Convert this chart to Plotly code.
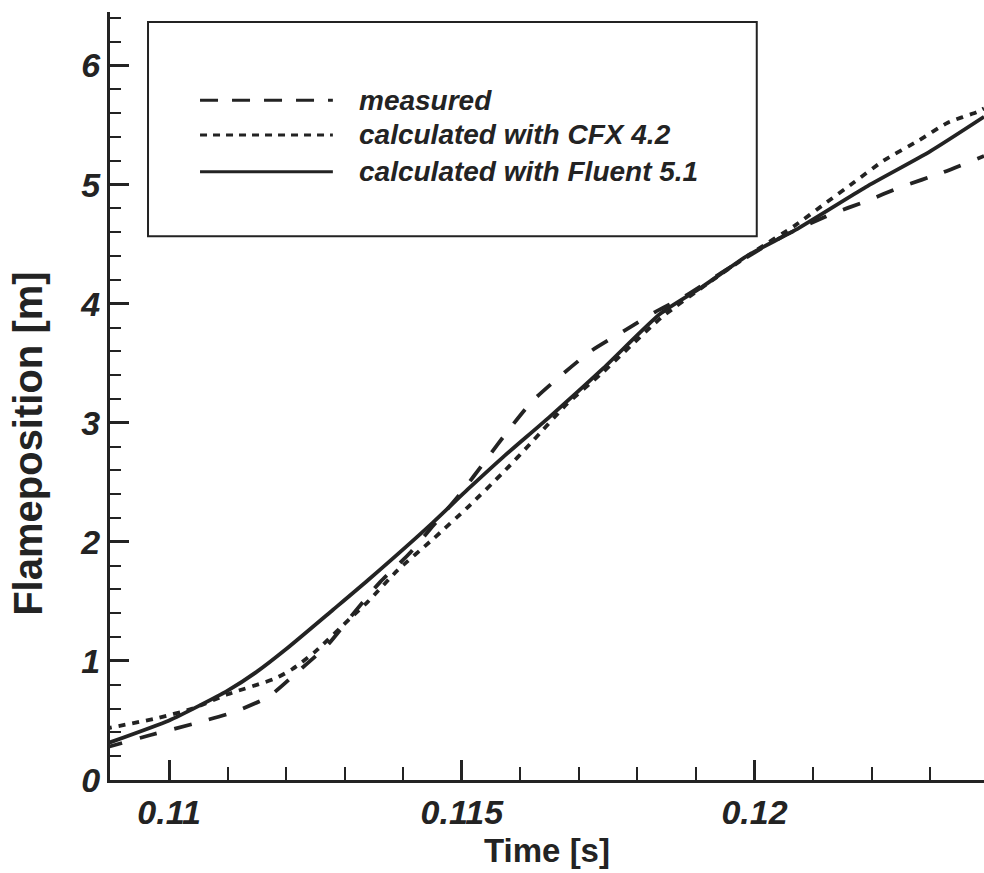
import plotly.graph_objects as go

# ---- data ----
t_measured = [0.1089, 0.1097, 0.1104, 0.1111, 0.1117, 0.1122, 0.1127, 0.1131, 0.1136, 0.1141,
              0.1145, 0.1150, 0.1154, 0.1158, 0.1162, 0.1167, 0.1172, 0.1178, 0.1183, 0.1188,
              0.1195, 0.1200, 0.1205, 0.1213, 0.1219, 0.1225, 0.1232, 0.12392]
y_measured = [0.27, 0.38, 0.47, 0.57, 0.70, 0.91, 1.13, 1.37, 1.66, 1.90,
              2.13, 2.42, 2.68, 2.94, 3.18, 3.40, 3.60, 3.78, 3.93, 4.06,
              4.28, 4.43, 4.57, 4.75, 4.86, 4.98, 5.10, 5.24]

t_cfx = [0.1089, 0.1098, 0.1104, 0.1110, 0.1118, 0.1121, 0.1125, 0.1131, 0.1134, 0.1139,
         0.1145, 0.1151, 0.1157, 0.1162, 0.1168, 0.1174, 0.1184, 0.1192, 0.1200, 0.1207,
         0.1212, 0.1217, 0.1222, 0.1228, 0.1233, 0.1238, 0.12392]
y_cfx = [0.43, 0.52, 0.60, 0.72, 0.85, 0.93, 1.08, 1.36, 1.50, 1.76,
         2.02, 2.29, 2.58, 2.84, 3.16, 3.42, 3.88, 4.17, 4.44, 4.66,
         4.84, 5.02, 5.20, 5.37, 5.52, 5.61, 5.64]

t_fluent = [0.1089, 0.1100, 0.1105, 0.1110, 0.1115, 0.1120, 0.1128, 0.1134, 0.1145, 0.1151,
            0.1157, 0.1165, 0.1174, 0.1184, 0.1191, 0.1199, 0.1207, 0.1219, 0.1230, 0.12392]
y_fluent = [0.30, 0.50, 0.62, 0.75, 0.91, 1.10, 1.43, 1.68, 2.16, 2.44,
            2.71, 3.05, 3.45, 3.92, 4.14, 4.41, 4.62, 4.98, 5.28, 5.57]

series_names = ["measured", "calculated with CFX 4.2", "calculated with Fluent 5.1"]
x_tick_vals = [0.11, 0.115, 0.12]
x_tick_text = ["0.11", "0.115", "0.12"]
y_tick_vals = [0, 1, 2, 3, 4, 5, 6]
y_tick_text = ["0", "1", "2", "3", "4", "5", "6"]
x_title = "Time [s]"
y_title = "Flameposition [m]"

INK = "#232323"
FONT = "Liberation Sans, Arial, sans-serif"
dashes = ["18px,18px", "7px,7px", "solid"]

fig = go.Figure()
for t, y, name, d in zip([t_measured, t_cfx, t_fluent], [y_measured, y_cfx, y_fluent],
                         series_names, dashes):
    fig.add_trace(go.Scatter(x=t, y=y, mode="lines", name=name, showlegend=False,
                             line=dict(color=INK, width=3.8, dash=d, shape="spline", smoothing=0.6)))

tickfont = dict(family=FONT, size=34, color=INK, weight="bold", style="italic")

fig.update_layout(
    width=984, height=873,
    margin=dict(l=110, r=0, t=12, b=93),
    paper_bgcolor="white", plot_bgcolor="white",
    showlegend=False,
    xaxis=dict(range=[0.10899, 0.12392], showgrid=False, zeroline=False,
               showline=True, linecolor=INK, linewidth=3,
               tickmode="array", tickvals=x_tick_vals, ticktext=x_tick_text,
               ticks="inside", ticklen=20, tickwidth=2.5, tickcolor=INK,
               tickfont=tickfont,
               minor=dict(tick0=0.11, dtick=0.001, ticks="inside", ticklen=13,
                          tickwidth=2, tickcolor=INK, showgrid=False),
               title=dict(text=x_title, standoff=10,
                          font=dict(family=FONT, size=33, color=INK, weight="bold"))),
    yaxis=dict(range=[0, 6.45], showgrid=False, zeroline=False,
               showline=True, linecolor=INK, linewidth=3,
               tickmode="array", tickvals=y_tick_vals, ticktext=y_tick_text,
               ticks="inside", ticklen=19, tickwidth=3, tickcolor=INK,
               tickfont=tickfont,
               minor=dict(tick0=0, dtick=0.2, ticks="inside", ticklen=11,
                          tickwidth=2, tickcolor=INK, showgrid=False)),
)

# y-axis title as rotated annotation
fig.add_annotation(text=y_title, xref="paper", yref="paper", x=-0.094, y=0.4375,
                   xanchor="center", yanchor="middle", textangle=-90, showarrow=False,
                   font=dict(family=FONT, size=40, color=INK, weight="bold"))

# legend box drawn manually (as in the original figure)
fig.add_shape(type="rect", xref="paper", yref="paper", x0=0.0435, x1=0.740, y0=0.708, y1=0.987,
              line=dict(color=INK, width=2), fillcolor="rgba(0,0,0,0)")
legend_y = [0.885, 0.840, 0.792]
for name, d, ly in zip(series_names, ["18px,14px", "7px,6px", "solid"], legend_y):
    fig.add_shape(type="line", xref="paper", yref="paper", x0=0.103, x1=0.255, y0=ly, y1=ly,
                  line=dict(color=INK, width=3, dash=d))
    fig.add_annotation(text=name, xref="paper", yref="paper", x=0.2826, y=ly,
                       xanchor="left", yanchor="middle", showarrow=False,
                       font=dict(family=FONT, size=28, color=INK, weight="bold", style="italic"))

fig.write_html("out.html")
